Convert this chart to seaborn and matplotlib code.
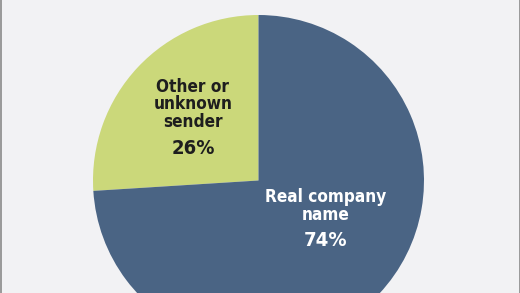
import matplotlib
matplotlib.use("Agg")
import matplotlib.pyplot as plt
import seaborn as sns
from matplotlib.lines import Line2D

categories = ["Other or\nunknown\nsender", "Real company\nname"]
values = [26, 74]
pct_labels = ["26%", "74%"]
colors = ["#cbd87a", "#4a6484"]
text_colors = ["#1e1e1e", "#ffffff"]

sns.set_theme(style="white")
plt.rcParams['font.family'] = ['DejaVu Sans']

W, H = 520, 293
fig = plt.figure(figsize=(W / 100, H / 100), dpi=100, facecolor="#f2f2f4")
ax = fig.add_axes([0, 0, 1, 1])
ax.set_facecolor("#f2f2f4")

cx, cy, r = 258.5, H - 180.5, 165.5
ax.pie(values, colors=colors, startangle=90, counterclock=True,
       center=(cx, cy), radius=r, wedgeprops=dict(linewidth=0))
ax.set_xlim(0, W)
ax.set_ylim(0, H)
ax.set_aspect("auto")
ax.axis("off")

# labels (baseline positions in pixel rows from top)
label_pos = [(193, [91.7, 109.3, 127.3], 154.3), (326, [201.7, 220.0], 246.0)]
for (x, line_ys, pct_y), cat, pct, tc in zip(label_pos, categories, pct_labels, text_colors):
    for line, yy in zip(cat.split("\n"), line_ys):
        ax.text(x, H - yy, line, ha="center", va="baseline", fontsize=12.3,
                fontweight="bold", fontstretch="condensed", color=tc)
    ax.text(x, H - pct_y, pct, ha="center", va="baseline", fontsize=14.5,
            fontweight="bold", fontstretch="condensed", color=tc)

# thin frame lines at left and right edges
fig.add_artist(Line2D([0.5 / W, 0.5 / W], [0, 1], transform=fig.transFigure,
                      color="#8a8a8a", linewidth=1.2))
fig.add_artist(Line2D([1 - 0.5 / W, 1 - 0.5 / W], [0, 1], transform=fig.transFigure,
                      color="#8a8a8a", linewidth=1.2))

fig.savefig("out.png", dpi=100, facecolor=fig.get_facecolor())
